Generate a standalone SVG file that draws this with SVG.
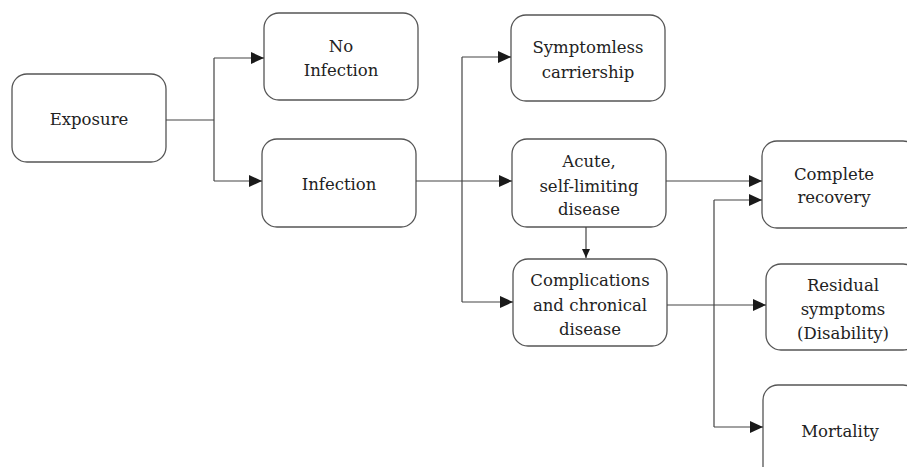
<svg xmlns="http://www.w3.org/2000/svg" width="907" height="467" viewBox="0 0 907 467">
<defs>
<marker id="arr" markerWidth="13" markerHeight="12" refX="13" refY="6" orient="auto" markerUnits="userSpaceOnUse">
<path d="M0,0 L13,6 L0,12 Z" fill="#1a1a1a"/>
</marker>
<marker id="arrs" markerWidth="8" markerHeight="9" refX="4" refY="9" orient="0" markerUnits="userSpaceOnUse">
<path d="M0,0 L8,0 L4,9 Z" fill="#1a1a1a"/>
</marker>
</defs>
<style>
.box{fill:#fff;stroke:#555;stroke-width:1.3}
text{font-family:'DejaVu Serif','Liberation Serif',serif;font-size:16.5px;fill:#222;text-anchor:middle}
.c{fill:none;stroke:#444;stroke-width:1.2}
</style>
<rect width="907" height="467" fill="#fff"/>
<g id="exposure"><rect class="box" x="12" y="74" width="154" height="88" rx="15"/><text x="89" y="125">Exposure</text></g>
<g id="no-infection"><rect class="box" x="264" y="13" width="154" height="87" rx="15"/><text x="341" y="52">No</text><text x="341" y="76">Infection</text></g>
<g id="infection"><rect class="box" x="262" y="139" width="154" height="88" rx="15"/><text x="339" y="190">Infection</text></g>
<g id="symptomless"><rect class="box" x="511" y="15" width="154" height="86" rx="15"/><text x="588" y="53">Symptomless</text><text x="588" y="78">carriership</text></g>
<g id="acute"><rect class="box" x="512" y="139" width="154" height="88" rx="15"/><text x="589" y="167">Acute,</text><text x="589" y="192">self-limiting</text><text x="589" y="215">disease</text></g>
<g id="complications"><rect class="box" x="513" y="259" width="154" height="87" rx="15"/><text x="590" y="286">Complications</text><text x="590" y="311">and chronical</text><text x="590" y="335">disease</text></g>
<g id="complete-recovery"><rect class="box" x="762" y="141" width="156" height="87" rx="15"/><text x="834" y="180">Complete</text><text x="834" y="203">recovery</text></g>
<g id="residual"><rect class="box" x="766" y="264" width="152" height="86" rx="15"/><text x="843" y="291">Residual</text><text x="843" y="315">symptoms</text><text x="843" y="339">(Disability)</text></g>
<g id="mortality"><rect class="box" x="763" y="385" width="155" height="100" rx="15"/><text x="840" y="437">Mortality</text></g>
<g id="connectors">
<path class="c" d="M166,120 H214"/>
<path class="c" d="M214,58 V181"/>
<path class="c" d="M214,58 H264" marker-end="url(#arr)"/>
<path class="c" d="M214,181 H262" marker-end="url(#arr)"/>
<path class="c" d="M416,181 H512" marker-end="url(#arr)"/>
<path class="c" d="M462,57 V302"/>
<path class="c" d="M462,57 H511" marker-end="url(#arr)"/>
<path class="c" d="M462,302 H513" marker-end="url(#arr)"/>
<path class="c" d="M586,227 V258" marker-end="url(#arrs)"/>
<path class="c" d="M666,181 H762" marker-end="url(#arr)"/>
<path class="c" d="M714,200 V427"/>
<path class="c" d="M714,200 H762" marker-end="url(#arr)"/>
<path class="c" d="M714,427 H763" marker-end="url(#arr)"/>
<path class="c" d="M667,305 H766" marker-end="url(#arr)"/>
</g>
</svg>
